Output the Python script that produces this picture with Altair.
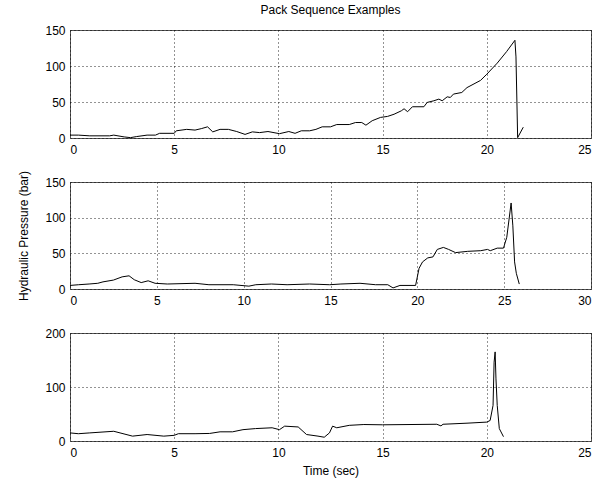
import altair as alt
import pandas as pd

# ---- data ----
t1 = [0, 0.4, 0.95, 1.9, 2.1, 2.6, 2.9, 3.2, 3.7, 4.1, 4.3, 5.0, 5.1, 5.6, 6.0, 6.3, 6.6, 6.85,
      7.2, 7.6, 8.0, 8.4, 8.75, 9.1, 9.5, 10.05, 10.5, 10.8, 11.1, 11.5, 11.8, 12.1, 12.5, 12.8,
      13.4, 13.7, 14.0, 14.2, 14.5, 14.9, 15.24, 15.55, 15.9, 16.03, 16.2, 16.43, 16.98, 17.14,
      17.46, 17.7, 17.86, 18.1, 18.25, 18.4, 18.8, 19.05, 19.7, 20.0, 20.5, 20.95, 21.35, 21.4,
      21.48, 21.75]
p1 = [4, 4, 3, 3, 4, 1.5, 0.5, 2, 4, 4, 6.5, 6.5, 10, 12, 11, 13, 15.5, 8.5,
      12, 12, 9, 5, 8.5, 7.5, 9, 6, 9, 6.5, 10, 10, 12, 15.5, 15.5, 18.7,
      18.7, 21.5, 21.5, 17.8, 24, 28.6, 30, 33, 37.8, 40.6, 36.5, 43.4, 43.4, 49.4,
      51.7, 54, 51.7, 57.2, 56.3, 61, 63.2, 70, 80, 88.6, 104, 120, 135.7, 112.6,
      0.5, 15]

t2 = [0, 0.5, 1.1, 1.6, 1.9, 2.5, 3.0, 3.4, 3.7, 4.1, 4.5, 4.9, 5.6, 7.2, 8.0, 9.4, 10.3,
      10.7, 11.6, 12.5, 13.8, 14.95, 15.6, 16.7, 17.6, 18.3, 18.6, 19.0, 19.9, 20.1, 20.3,
      20.6, 20.9, 21.15, 21.5, 21.8, 22.2, 22.9, 23.65, 24.04, 24.2, 24.6, 24.96, 25.15,
      25.4, 25.5, 25.6, 25.7, 25.87]
p2 = [5, 6, 7, 8, 10, 12.5, 17, 18.5, 13, 9, 11.5, 8, 7, 8, 6, 6, 4,
      6, 7, 6, 7, 6, 7, 8, 6, 6, 1.5, 5, 5, 29, 38,
      43.6, 45, 55.5, 58.3, 55.5, 51, 52.8, 53.7, 55.5, 53.7, 57.3, 57.3, 72.5,
      120.6, 88.5, 38, 22, 6.9]

t3 = [0, 0.4, 0.95, 2.1, 2.4, 3.0, 3.7, 4.5, 5.0, 5.2, 6.0, 6.7, 7.2, 7.8, 8.3, 8.9, 9.7,
      10.05, 10.3, 10.95, 11.35, 11.9, 12.2, 12.45, 12.6, 12.8, 13.4, 14.1, 15.0, 17.6,
      17.8, 17.9, 19.05, 20.0, 20.16, 20.3, 20.35, 20.4, 20.44, 20.5, 20.6, 20.8]
p3 = [15, 13.5, 15, 18, 15, 9, 12, 9, 10.5, 13.5, 13.5, 14, 17, 17, 21, 23, 24.5,
      21, 27.5, 26, 12, 9, 7, 15, 27.5, 24.5, 29, 30.5, 30, 31,
      28, 31, 33, 35, 38, 66, 146, 165, 115, 66, 23, 8]

x_ticks_1 = [0, 5, 10, 15, 20, 25]
x_ticks_2 = [0, 5, 10, 15, 20, 25, 30]
x_ticks_3 = [0, 5, 10, 15, 20, 25]
y_ticks_1 = [0, 50, 100, 150]
y_ticks_2 = [0, 50, 100, 150]
y_ticks_3 = [0, 100, 200]

TITLE = "Pack Sequence Examples"
Y_TITLE = "Hydraulic Pressure (bar)"
X_TITLE = "Time (sec)"

FONT = "Liberation Sans"
W = 521


def panel(ts, ps, xt, yt, height, xtitle=None, ytitle=None):
    df = pd.DataFrame({"t": ts, "p": ps, "i": range(len(ts))})
    xax = dict(values=xt, format="d", labelPadding=6, tickSize=0, ticks=False,
               domain=False, grid=True)
    yax = dict(values=yt, format="d", labelPadding=5, tickSize=0, ticks=False,
               domain=False, grid=True)
    if xtitle:
        xax.update(title=xtitle, titleX=W / 2, titleY=29, titleBaseline="middle",
                   titleAlign="center")
    else:
        xax.update(title=None)
    if ytitle:
        yax.update(title=ytitle, titleX=-47, titleY=height / 2, titleAngle=270,
                   titleBaseline="middle", titleAlign="center")
    else:
        yax.update(title=None)
    ch = alt.Chart(df).mark_line(color="black", strokeWidth=1, clip=True).encode(
        x=alt.X("t:Q", scale=alt.Scale(domain=[xt[0], xt[-1]], nice=False, zero=False),
                axis=alt.Axis(**xax)),
        y=alt.Y("p:Q", scale=alt.Scale(domain=[yt[0], yt[-1]], nice=False, zero=False),
                axis=alt.Axis(**yax)),
        order="i:Q",
    )
    return ch.properties(width=W, height=height)


c1 = panel(t1, p1, x_ticks_1, y_ticks_1, 108)
c2 = panel(t2, p2, x_ticks_2, y_ticks_2, 107, ytitle=Y_TITLE)
c3 = panel(t3, p3, x_ticks_3, y_ticks_3, 108, xtitle=X_TITLE)

chart = alt.vconcat(c1, c2, c3, spacing=44, bounds="flush").properties(
    title=alt.TitleParams(text=TITLE, anchor="middle", frame="group", offset=-2,
                          baseline="alphabetic", fontSize=12, fontWeight="normal",
                          font=FONT, color="black"),
    padding={"left": 16, "top": 3, "right": 10, "bottom": 8},
    background="white",
).configure_view(
    stroke="#555555", strokeWidth=1, fill="white"
).configure_axis(
    labelFont=FONT, labelFontSize=12, labelColor="black",
    titleFont=FONT, titleFontSize=12, titleColor="black", titleFontWeight="normal",
    gridColor="black", gridDash=[1, 3], gridOpacity=0.85, gridWidth=1,
).configure_concat(spacing=44)

chart.save("out.html", embed_options={"renderer": "svg", "actions": False})
